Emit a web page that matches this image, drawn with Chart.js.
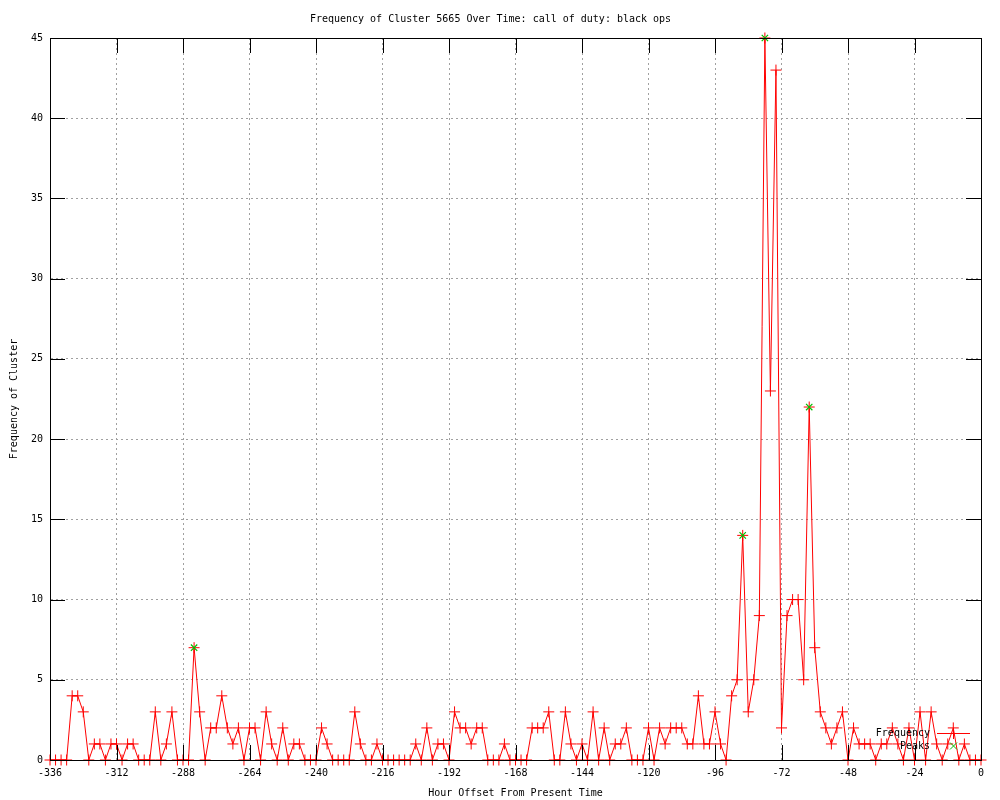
<!DOCTYPE html>
<html>
<head>
<meta charset="utf-8">
<title>Frequency of Cluster 5665 Over Time</title>
<script src="https://cdn.jsdelivr.net/npm/chart.js@4/dist/chart.umd.min.js"></script>
<style>
  body { margin: 0; background: #fff; }
  #wrap { width: 1000px; height: 800px; }
</style>
</head>
<body>
<div id="wrap"><canvas id="clusterChart" width="1000" height="800"></canvas></div>
<script>
// hour offsets (x), one sample every 2 hours
const hours = [
  -336, -334, -332, -330, -328, -326, -324, -322, -320, -318, -316, -314,
  -312, -310, -308, -306, -304, -302, -300, -298, -296, -294, -292, -290,
  -288, -286, -284, -282, -280, -278, -276, -274, -272, -270, -268, -266,
  -264, -262, -260, -258, -256, -254, -252, -250, -248, -246, -244, -242,
  -240, -238, -236, -234, -232, -230, -228, -226, -224, -222, -220, -218,
  -216, -214, -212, -210, -208, -206, -204, -202, -200, -198, -196, -194,
  -192, -190, -188, -186, -184, -182, -180, -178, -176, -174, -172, -170,
  -168, -166, -164, -162, -160, -158, -156, -154, -152, -150, -148, -146,
  -144, -142, -140, -138, -136, -134, -132, -130, -128, -126, -124, -122,
  -120, -118, -116, -114, -112, -110, -108, -106, -104, -102, -100, -98,
  -96, -94, -92, -90, -88, -86, -84, -82, -80, -78, -76, -74,
  -72, -70, -68, -66, -64, -62, -60, -58, -56, -54, -52, -50,
  -48, -46, -44, -42, -40, -38, -36, -34, -32, -30, -28, -26,
  -24, -22, -20, -18, -16, -14, -12, -10, -8, -6, -4, -2,
  0
];

const frequency = [
  0, 0, 0, 0, 4, 4, 3, 0, 1, 1, 0, 1,
  1, 0, 1, 1, 0, 0, 0, 3, 0, 1, 3, 0,
  0, 0, 7, 3, 0, 2, 2, 4, 2, 1, 2, 0,
  2, 2, 0, 3, 1, 0, 2, 0, 1, 1, 0, 0,
  0, 2, 1, 0, 0, 0, 0, 3, 1, 0, 0, 1,
  0, 0, 0, 0, 0, 0, 1, 0, 2, 0, 1, 1,
  0, 3, 2, 2, 1, 2, 2, 0, 0, 0, 1, 0,
  0, 0, 0, 2, 2, 2, 3, 0, 0, 3, 1, 0,
  1, 0, 3, 0, 2, 0, 1, 1, 2, 0, 0, 0,
  2, 0, 2, 1, 2, 2, 2, 1, 1, 4, 1, 1,
  3, 1, 0, 4, 5, 14, 3, 5, 9, 45, 23, 43,
  2, 9, 10, 10, 5, 22, 7, 3, 2, 1, 2, 3,
  0, 2, 1, 1, 1, 0, 1, 1, 2, 1, 0, 2,
  0, 3, 0, 3, 1, 0, 1, 2, 0, 1, 0, 0,
  0
];

const peakHours = [-284, -86, -78, -62];
const peakValues = [7, 14, 45, 22];

const xTickStep = 24;
const yTickStep = 5;

const FONT = "'DejaVu Sans Mono', 'Liberation Mono', monospace";

// gnuplot style frame, inward ticks on all four sides, and the legend
const gnuplotFrame = {
  id: 'gnuplotFrame',
  afterDatasetsDraw(chart) {
    const ctx = chart.ctx;
    const a = chart.chartArea;
    const xs = chart.scales.x;
    const ys = chart.scales.y;
    const tl = 15;
    ctx.save();
    ctx.strokeStyle = '#000';
    ctx.lineWidth = 1;
    ctx.beginPath();
    xs.ticks.forEach(t => {
      const px = Math.round(xs.getPixelForValue(t.value)) + 0.5;
      ctx.moveTo(px, a.bottom); ctx.lineTo(px, a.bottom - tl);
      ctx.moveTo(px, a.top); ctx.lineTo(px, a.top + tl);
    });
    ys.ticks.forEach(t => {
      const py = Math.round(ys.getPixelForValue(t.value)) + 0.5;
      ctx.moveTo(a.left, py); ctx.lineTo(a.left + tl, py);
      ctx.moveTo(a.right, py); ctx.lineTo(a.right - tl, py);
    });
    ctx.stroke();
    ctx.strokeRect(Math.round(a.left) + 0.5, Math.round(a.top) + 0.5,
      Math.round(a.right - a.left), Math.round(a.bottom - a.top));

    // legend, bottom right inside the plot
    const tx = a.right - 51;
    const y1 = a.bottom - 27;
    const y2 = a.bottom - 14;
    const sx1 = a.right - 44, sx2 = a.right - 11;
    const cx = (sx1 + sx2) / 2;
    ctx.font = '10px ' + FONT;
    ctx.fillStyle = '#000';
    ctx.textAlign = 'right';
    ctx.textBaseline = 'middle';
    ctx.fillText('Frequency', tx, y1);
    ctx.fillText('Peaks', tx, y2);
    ctx.strokeStyle = '#ff0000';
    ctx.beginPath();
    ctx.moveTo(sx1, y1 + 0.5); ctx.lineTo(sx2, y1 + 0.5);
    ctx.moveTo(cx, y1 - 5); ctx.lineTo(cx, y1 + 6);
    ctx.stroke();
    ctx.strokeStyle = '#00c000';
    ctx.beginPath();
    ctx.moveTo(cx - 3.5, y2 - 3.5); ctx.lineTo(cx + 3.5, y2 + 3.5);
    ctx.moveTo(cx - 3.5, y2 + 3.5); ctx.lineTo(cx + 3.5, y2 - 3.5);
    ctx.stroke();
    ctx.restore();
  }
};

const ctx = document.getElementById('clusterChart').getContext('2d');

new Chart(ctx, {
  type: 'line',
  data: {
    datasets: [
      {
        label: 'Frequency',
        data: hours.map((h, i) => ({ x: h, y: frequency[i] })),
        borderColor: '#ff0000',
        backgroundColor: '#ff0000',
        borderWidth: 1,
        pointStyle: 'cross',
        pointRadius: 5.5,
        pointBorderWidth: 1,
        pointBorderColor: '#ff0000',
        tension: 0,
        clip: false,
        order: 2
      },
      {
        label: 'Peaks',
        data: peakHours.map((h, i) => ({ x: h, y: peakValues[i] })),
        showLine: false,
        borderColor: '#00c000',
        backgroundColor: '#00c000',
        pointStyle: 'crossRot',
        pointRadius: 4.5,
        pointBorderWidth: 1.2,
        pointBorderColor: '#00c000',
        clip: false,
        order: 1
      }
    ]
  },
  options: {
    responsive: false,
    animation: false,
    layout: { padding: { top: 0, right: 19, bottom: 0, left: 0 } },
    plugins: {
      legend: { display: false },
      tooltip: { enabled: false },
      title: {
        display: true,
        text: 'Frequency of Cluster 5665 Over Time: call of duty: black ops',
        color: '#000',
        font: { family: FONT, size: 10, weight: 'normal', lineHeight: 1.2 },
        padding: { top: 13, bottom: 13 }
      }
    },
    scales: {
      x: {
        type: 'linear',
        min: -336,
        max: 0,
        afterFit(scale) { scale.height = 40; },
        ticks: {
          stepSize: xTickStep,
          color: '#000',
          padding: 7,
          maxRotation: 0,
          font: { family: FONT, size: 10 }
        },
        grid: { color: '#a0a0a0', drawTicks: false, lineWidth: 1 },
        border: { display: true, color: '#000', dash: [2, 3] },
        title: {
          display: true,
          text: 'Hour Offset From Present Time',
          color: '#000',
          font: { family: FONT, size: 10, lineHeight: 1.2 },
          padding: { top: 0, bottom: 1 }
        }
      },
      y: {
        min: 0,
        max: 45,
        afterFit(scale) { scale.width = 50; },
        ticks: {
          stepSize: yTickStep,
          color: '#000',
          padding: 7,
          font: { family: FONT, size: 10 }
        },
        grid: { color: '#a0a0a0', drawTicks: false, lineWidth: 1 },
        border: { display: true, color: '#000', dash: [2, 3] },
        title: {
          display: true,
          text: 'Frequency of Cluster',
          color: '#000',
          font: { family: FONT, size: 10, lineHeight: 1.2 },
          padding: { top: 8, bottom: 0 }
        }
      }
    }
  },
  plugins: [gnuplotFrame]
});
</script>
</body>
</html>
